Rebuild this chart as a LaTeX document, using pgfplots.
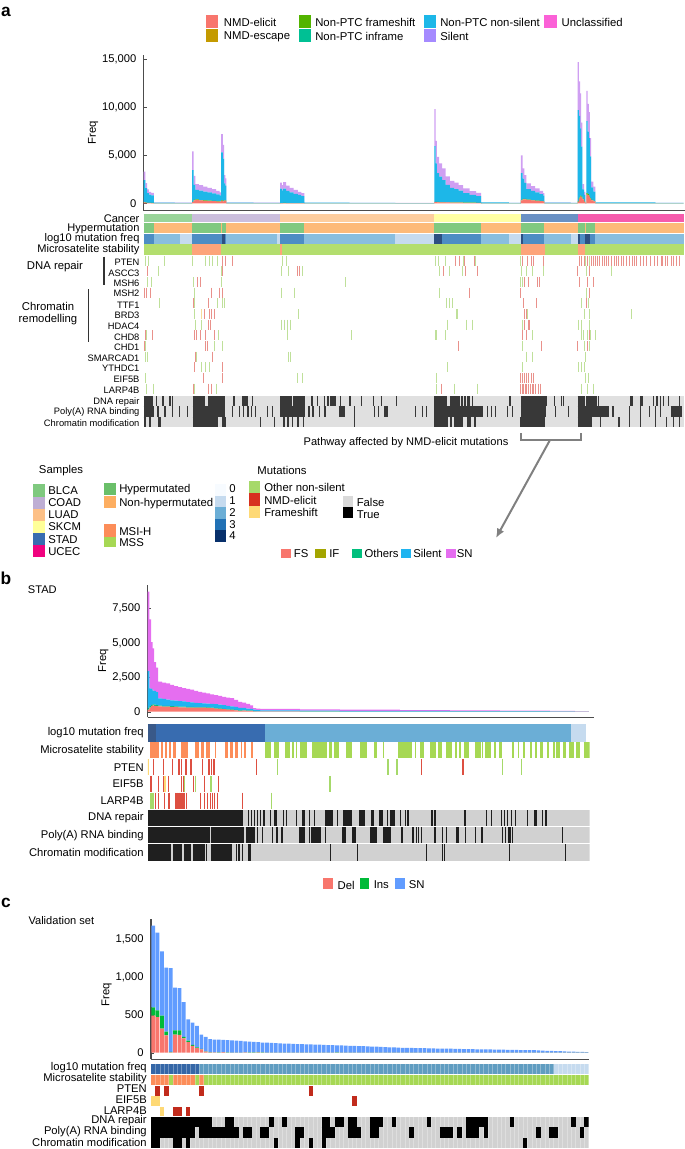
\documentclass[border=0pt]{standalone}
\usepackage{fontspec}
\setmainfont{Liberation Sans}
\usepackage{pgfplots}
\usepackage{pgfplotstable}
\pgfplotsset{compat=1.18}
\usetikzlibrary{arrows.meta}

% colours
\definecolor{fsc}{HTML}{F8766D}
\definecolor{escc}{HTML}{C49A00}
\definecolor{frc}{HTML}{53B400}
\definecolor{infc}{HTML}{00C094}
\definecolor{nsc}{HTML}{1DB7E8}
\definecolor{silc}{HTML}{A58AFF}
\definecolor{uncc}{HTML}{FB61D7}
\definecolor{silbar}{HTML}{CF9FF2}
\definecolor{ifc}{HTML}{A3A500}
\definecolor{othc}{HTML}{00BF7D}
\definecolor{silb}{HTML}{1FB4F0}
\definecolor{snc}{HTML}{E56EF0}
\definecolor{insc}{HTML}{00BA38}
\definecolor{snb}{HTML}{619CFF}
\definecolor{blca}{HTML}{7FC97F}
\definecolor{coad}{HTML}{BEAED4}
\definecolor{luad}{HTML}{FDC086}
\definecolor{skcm}{HTML}{FFFF99}
\definecolor{stad}{HTML}{386CB0}
\definecolor{ucec}{HTML}{F0027F}
\definecolor{hypg}{HTML}{6ABF69}
\definecolor{hypo}{HTML}{FDAE61}
\definecolor{msih}{HTML}{FC8D59}
\definecolor{mss}{HTML}{A6D854}
\definecolor{lga}{HTML}{F7FBFF}
\definecolor{lgb}{HTML}{C6DBEF}
\definecolor{lgc}{HTML}{6BAED6}
\definecolor{lgd}{HTML}{2171B5}
\definecolor{lge}{HTML}{08306B}
\definecolor{onsc}{HTML}{A6D96A}
\definecolor{nmdc}{HTML}{D7301F}
\definecolor{fshc}{HTML}{FED976}
\definecolor{agrn}{HTML}{BFE09A}
\definecolor{ared}{HTML}{E9918B}
\definecolor{ayel}{HTML}{F6DC9A}

\newcommand{\fA}{\fontsize{8.3}{9}\selectfont}
\newcommand{\fB}{\fontsize{7}{8}\selectfont}
\newcommand{\fC}{\fontsize{8.5}{10}\selectfont}
\newcommand{\fD}{\fontsize{8.4}{10}\selectfont}

% row of intervals: colour, y centre, height (px), list a/b
\newcommand{\cells}[4]{%
  \gdef\pts{}%
  \foreach \a/\b in {#4} {\xdef\pts{\pts (\a,#2) (\b,#2) (\b,nan)}}%
  \edef\tmp{\noexpand\addplot[draw=#1,line width=#3*.75pt,forget plot] coordinates {\pts};}\tmp}
% row of single ticks: colour, y centre, height (px), tick width (px), list x
\newcommand{\ticks}[5]{%
  \pgfmathsetmacro{\ya}{#2-#3/2}\pgfmathsetmacro{\yb}{#2+#3/2}%
  \gdef\pts{}%
  \foreach \a in {#5} {\xdef\pts{\pts (\a,\ya) (\a,\yb) (\a,nan)}}%
  \edef\tmp{\noexpand\addplot[draw=#1,line width=#4*.75pt,forget plot] coordinates {\pts};}\tmp}

\pgfplotsset{
  freqaxis/.style={
    scale only axis, anchor=north west,
    axis lines*=left, axis line style={draw=black!70,line width=.8pt,-},
    xtick=\empty, tick style={draw=black!70}, major tick length=2.5pt,
    yticklabel style={font=\fD,xshift=-2pt,/pgf/number format/.cd,1000 sep={,},assume math mode=true},
    scaled y ticks=false, ylabel=Freq, ylabel style={font=\fC,yshift=-4pt},
  },
  heat/.style={
    scale only axis, anchor=north west, y dir=reverse,
    axis y line=left, axis x line=none, y axis line style={draw=none},
    tick style={draw=none}, major tick length=0pt, xtick=\empty,
    unbounded coords=jump,
    yticklabel style={inner sep=3pt},
  },
}

% panel a: x is sample position along the axis, values per stack
\pgfplotstableread{
x e f n s
329 100 20 2300 880
333 60 15 1500 525
337 40 10 1000 400
341 35 10 860 295
346 30 10 780 280
352 5 2 75 18
400 3 1 50 16
439 3 1 50 16
440 120 30 3300 1950
443 300 60 1550 940
447 350 50 1000 600
455 300 40 980 580
465 260 40 920 530
475 240 40 850 470
485 220 30 790 430
495 190 30 700 380
503 170 30 620 330
506 250 60 5000 1890
510 200 50 4400 1450
513 280 40 1750 880
516 250 40 1550 760
518 5 2 70 23
580 3 1 50 16
641 20 10 1500 620
645 20 10 1320 550
648 25 10 1500 665
655 20 10 1280 540
663 20 8 1120 452
672 15 8 960 417
682 15 6 850 329
690 12 6 740 292
697 4 1 60 15
800 3 1 40 16
905 2 1 30 12
994 120 30 5800 3850
997 120 30 4000 2350
1000 110 30 3000 1710
1005 100 20 2650 1380
1012 100 20 2300 1230
1020 90 20 1800 890
1030 80 20 1500 750
1040 70 20 1400 660
1050 70 20 1230 580
1060 60 15 1000 485
1075 50 15 820 395
1090 45 15 700 340
1101 5 2 80 23
1165 3 1 40 16
1192 300 50 2800 1850
1196 400 60 2100 1090
1200 420 50 1650 830
1205 350 40 1100 590
1215 300 30 980 490
1225 260 30 840 430
1235 220 30 710 340
1243 180 20 600 250
1246 5 2 70 23
1306 3 1 40 16
1322 150 50 9500 5000
1325 500 100 8500 3600
1328 700 100 7000 3650
1330 600 100 5200 2500
1333 400 60 1000 540
1337 150 30 700 320
1340 5 2 70 23
1342 900 150 7500 3150
1345 850 120 6500 2880
1348 700 100 6000 2700
1350 500 80 4300 1920
1353 300 50 1300 600
1358 200 30 1000 520
1363 5 2 80 23
1500 3 1 40 16
1565 2 1 30 12
}\dataA

\pgfplotstableread{
x fs oth sil sn
147.7 150 100 2700 5770
149.3 300 100 1300 5000
151 420 80 1150 3400
152.7 450 80 1000 3070
154 430 80 1000 2090
156 400 70 950 1780
158 380 60 530 1210
162 370 60 500 1190
166 360 60 450 1180
170 350 50 430 1110
174 340 50 420 1040
178 320 50 400 1010
182 310 50 380 980
186 300 50 350 960
190 300 50 330 920
194 290 40 310 880
198 290 40 290 820
202 290 40 270 780
206 280 40 260 750
210 260 40 270 680
214 230 40 270 660
218 200 40 270 630
222 180 30 260 610
226 150 30 250 600
230 130 30 230 590
234 100 30 220 500
238 60 30 190 440
242 80 20 170 380
246 60 20 150 340
250 50 20 130 260
253 30 10 100 120
256 20 10 90 110
260 15 5 70 110
300 10 5 55 100
340 8 4 48 80
400 6 4 40 70
450 5 3 32 55
500 4 2 25 44
550 3 1 18 28
575 2 1 8 14
589 1 1 5 8
}\dataB

\pgfplotstableread{
i del ins sn
1 490 110 1080
2 470 90 1030
3 320 170 850
4 230 50 845
5 5 5 1110
6 240 55 565
7 235 60 560
8 190 20 460
9 140 20 280
10 90 15 295
11 60 10 285
12 45 5 190
13 15 3 192
14 5 2 173
15 4 1 170
16 3 1 168
17 8 1 161
18 3 1 164
19 2 1 162
20 2 1 157
21 2 1 155
22 5 1 146
23 3 1 144
24 3 1 141
25 6 1 133
26 3 1 131
27 2 1 130
28 2 1 127
29 2 1 125
30 2 1 122
31 2 1 119
32 2 1 117
33 2 1 115
34 2 1 112
35 2 1 110
36 2 1 109
37 2 1 107
38 2 1 105
39 2 1 103
40 2 1 101
41 2 1 99
42 2 1 97
43 3 1 94
44 2 1 93
45 2 1 91
46 2 1 89
47 2 1 87
48 2 1 85
49 2 1 83
50 2 1 81
51 2 1 79
52 2 1 77
53 2 1 75
54 2 1 72
55 2 1 69
56 2 1 67
57 2 1 65
58 2 1 63
59 2 1 61
60 2 1 60
61 2 1 59
62 2 1 58
63 2 1 57
64 2 1 56
65 2 1 55
66 2 1 53
67 2 1 52
68 2 1 51
69 2 1 50
70 2 1 49
71 2 1 47
72 2 1 46
73 2 1 45
74 2 1 44
75 2 1 43
76 2 1 42
77 2 1 41
78 2 1 40
79 2 1 39
80 2 1 38
81 2 1 37
82 2 1 36
83 2 1 35
84 2 1 34
85 2 1 33
86 2 1 32
87 2 1 31
88 2 1 30
89 2 1 29
90 2 1 25
91 2 1 23
92 2 1 21
93 1 1 20
94 1 1 18
95 1 1 16
96 1 1 14
97 1 1 12
98 1 1 10
99 1 1 8
100 1 1 6
}\dataC

\begin{document}
\begin{tikzpicture}[x=.75pt,y=-.75pt]
\useasboundingbox (0,0) rectangle (685,1149);

% ---------- panel a bars
\begin{axis}[freqaxis, at={(107.78pt,-41.25pt)}, width=406pt, height=116.8pt,
    xmin=329, xmax=1568, ymin=-771, ymax=15448,
    ytick={0,5000,10000,15000}, stack plots=y, const plot]
\addplot[fill=fsc,draw=none] table[x=x,y=e] {\dataA} \closedcycle;
\addplot[fill=frc,draw=none] table[x=x,y=f] {\dataA} \closedcycle;
\addplot[fill=nsc,draw=none] table[x=x,y=n] {\dataA} \closedcycle;
\addplot[fill=silbar,draw=none] table[x=x,y=s] {\dataA} \closedcycle;
\end{axis}

% ---------- panel a heat rows
\begin{axis}[heat, at={(107.78pt,-159.75pt)}, width=406pt, height=161.25pt,
    xmin=329, xmax=1568, ymin=213, ymax=428,
    ytick={218.3,228.2,238.8,249.5,262,273,283.7,293.5,305,315.5,326,337,347.7,358,368.7,379.7,390,401.7,412.3,423},
    yticklabels={{\fA Cancer},{\fA Hypermutation},{\fA log10 mutation freq},{\fA Microsatelite stability},
      {\fB PTEN},{\fB ASCC3},{\fB MSH6},{\fB MSH2},{\fB TTF1},{\fB BRD3},{\fB HDAC4},{\fB CHD8},{\fB CHD1},{\fB SMARCAD1},{\fB YTHDC1},{\fB EIF5B},{\fB LARP4B},
      {\fB DNA repair},{\fB Poly(A) RNA binding},{\fB Chromatin modification}}]
\cells{blca!80!white}{218.3}{8}{329/439}
\cells{coad!80!white}{218.3}{8}{439/641}
\cells{luad!80!white}{218.3}{8}{641/994}
\cells{skcm!90!white}{218.3}{8}{994/1192}
\cells{stad!75!white}{218.3}{8}{1192/1322}
\cells{ucec!65!white}{218.3}{8}{1322/1565}
\cells{hypg!85!white}{228.2}{10.3}{329/352,439/505,508/518,641/697,994/1101,1192/1245,1322/1338,1342/1363}
\cells{hypo!85!white}{228.2}{10.3}{352/439,505/508,518/641,697/994,1101/1192,1245/1322,1338/1342,1363/1565}
\cells{lgb}{238.8}{9.7}{412/439,634/641,905/994,1165/1192,1306/1322}
\cells{lgc!80!white}{238.8}{9.7}{352/412,518/634,697/905,1101/1165,1245/1306,1363/1565}
\cells{lgd!80!white}{238.8}{9.7}{329/352,439/508,515/518,641/697,1012/1101,1198/1245,1328/1340,1350/1363}
\cells{lge!85!white}{238.8}{9.7}{508/515,994/1012,1192/1198,1322/1328,1340/1350}
\cells{mss!85!white}{249.5}{10.4}{329/439,507/641,646/994,994/1192,1247/1322,1340/1565}
\cells{msih!80!white}{249.5}{10.4}{439/507,641/646,1192/1247,1322/1340}
% PTEN
\ticks{agrn}{260.7}{10}{1}{334,340,377,441,470,480,487,497,646,655,997,1004,1020,1061,1088,1192,1340,1350}
\ticks{ared}{260.7}{10}{1}{510,517,533,1043,1052,1064,1086,1196,1208,1216,1222,1243,1327,1332,1337,1345,1353,1358,1363,1368,1373,1378,1384,1388,1393,1400,1407,1412,1416,1423,1428,1433,1441,1448,1452,1458,1466,1473,1479,1488,1499,1505,1513,1517,1524,1528,1537,1542,1548,1555}
% ASCC3
\ticks{agrn}{271.4}{10}{1}{362,508,645,661,693,1006,1029,1058,1194,1205,1218,1243,1342,1400}
\ticks{ared}{271.4}{10}{1}{337,510,682,686,1015,1065,1093,1322,1349}
% MSH6
\ticks{agrn}{282}{10}{1}{338,347,443,508,791,1192,1196,1235}
\ticks{ared}{282}{10}{1}{452,460,1200,1210,1230,1236,1327,1345,1358}
% MSH2
\ticks{agrn}{292.7}{10}{1}{446,644,674,1005,1343}
\ticks{ared}{292.7}{10}{1}{330,336,345,484,503,509,1075,1192,1349}
% TTF1
\ticks{agrn}{303.3}{10}{1}{365,445,498,510,515,1022,1030,1036,1332,1348}
\ticks{ared}{303.3}{10}{1}{443,478,1198,1227,1342}
% BRD3
\ticks{agrn}{314}{10}{1}{445,683,1045,1048,1207,1338,1350,1445}
\ticks{ayel}{314}{10}{1}{462}
\ticks{ared}{314}{10}{1}{467,480,485,492,1200,1205}
% HDAC4
\ticks{agrn}{324.6}{10}{1}{448,462,645,651,658,665,1025,1068,1082,1195,1325,1330,1350}
\ticks{ared}{324.6}{10}{1}{478,482,1200,1210,1212}
% CHD8
\ticks{agrn}{335.3}{10}{1}{335,450,500,658,805,996,1000,1020,1218,1330,1335,1345,1352,1362}
\ticks{ared}{335.3}{10}{1}{333,348,445,450,460,470,490,1197,1205,1350}
% CHD1
\ticks{agrn}{345.9}{10}{1}{333,490,510,1195,1337,1350}
\ticks{ared}{345.9}{10}{1}{330,470,475,1049,1240,1322,1345}
% SMARCAD1
\ticks{agrn}{356.6}{10}{1}{333,337,449,660,666,1205,1218,1340}
\ticks{ared}{356.6}{10}{1}{447,487}
% YTHDC1
\ticks{agrn}{367.2}{10}{1}{462,470,480,1025,1195,1325,1332,1338}
\ticks{ared}{367.2}{10}{1}{445,510}
% EIF5B
\ticks{agrn}{377.9}{10}{1}{333,682,692,1000,1340,1348}
\ticks{ared}{377.9}{10}{1}{465,510,1192,1196,1200,1205,1210,1216,1222}
% LARP4B
\ticks{agrn}{388.5}{10}{1}{335,351,445,495,1000,1040,1092,1330,1345,1358}
\ticks{ared}{388.5}{10}{1}{443,478,484,1010,1192,1195,1198,1202,1206,1210,1214,1218,1222,1226,1232,1238}
% pathway rows
\cells{black!12}{400.8}{10.3}{329/1565}
\cells{black!12}{411.5}{10.3}{329/1565}
\cells{black!12}{422.2}{10.3}{329/1565}
\cells{black!78}{400.8}{10.3}{329/350,358/360,372/375,387/392,394/397,441/470,476/515,534/537,555/568,576/578,641/668,671/698,713/716,725/728,741/745,748/752,755/769,778/780,800/803,826/829,853/856,871/874,906/909,994/1024,1030/1052,1056/1060,1062/1066,1070/1075,1080/1082,1165/1170,1192/1252,1268/1271,1283/1285,1288/1291,1322/1338,1342/1366,1369/1372,1443/1450,1465/1471,1495/1497,1502/1505,1510/1513,1517/1520,1529/1531,1555/1557}
\cells{black!78}{411.5}{10.3}{329/352,360/364,375/380,393/396,410/412,428/431,441/516,530/533,546/548,556/558,565/570,574/576,584/587,612/614,622/625,641/698,706/710,715/719,730/733,741/746,775/790,810/812,856/858,865/868,880/888,950/953,965/968,975/977,994/1105,1115/1118,1124/1126,1132/1135,1160/1163,1172/1175,1192/1250,1270/1272,1300/1302,1322/1395,1400/1405,1440/1442,1465/1467,1485/1488,1499/1502,1510/1512,1535/1560}
\cells{black!78}{422.2}{10.3}{329/335,340/345,362/369,441/500,508/518,595/597,627/629,648/652,658/661,668/670,680/684,694/697,810/812,994/1025,1030/1035,1040/1060,1070/1078,1085/1090,1190/1247,1322/1355,1373/1375,1415/1418,1440/1442,1465/1467,1500/1502,1525/1527,1540/1542,1555/1557}
\end{axis}

% ---------- panel b bars
\begin{axis}[freqaxis, at={(110.78pt,-438.75pt)}, width=334.7pt, height=99.2pt,
    xmin=147.7, xmax=594, ymin=-407, ymax=9207,
    ytick={0,2500,5000,7500}, stack plots=y, const plot,
    ylabel style={xshift=-7pt}]
\addplot[fill=fsc,draw=none] table[x=x,y=fs] {\dataB} \closedcycle;
\addplot[fill=othc,draw=none] table[x=x,y=oth] {\dataB} \closedcycle;
\addplot[fill=silb,draw=none] table[x=x,y=sil] {\dataB} \closedcycle;
\addplot[fill=snc,draw=none] table[x=x,y=sn] {\dataB} \closedcycle;
\end{axis}

% ---------- panel b heat rows
\begin{axis}[heat, at={(110.93pt,-543pt)}, width=331.2pt, height=102.75pt,
    xmin=380, xmax=1515, ymin=724, ymax=861,
    ytick={733,750.3,767.2,784.1,801,818,835.2,852.2},
    yticklabels={log10 mutation freq,Microsatelite stability,PTEN,EIF5B,LARP4B,DNA repair,Poly(A) RNA binding,Chromatin modification},
    yticklabel style={font=\fD}]
\cells{lge!80!white}{733}{17.2}{380/402}
\cells{stad}{733}{17.2}{402/681}
\cells{lgc}{733}{17.2}{681/1468}
\cells{lgb}{733}{17.2}{1468/1506}
\cells{msih}{750.3}{16}{386/409,414/420,424/430,435/440,444/451,465/483,501/512,517/524,530/540,553/556,578/585,590/598,603/612,618/622,628/632,645/650}
\cells{mss}{750.3}{16}{681/696,704/718,732/745,750/755,760/764,770/788,803/840,845/852,858/872,888/905,925/942,962/970,983/988,1023/1060,1066/1070,1080/1090,1105/1120,1125/1135,1145/1162,1170/1175,1180/1185,1192/1205,1220/1235,1238/1242,1247/1262,1270/1275,1283/1290,1315/1322,1330/1335,1343/1350,1362/1366,1375/1380,1388/1395,1405/1410,1420/1426,1430/1440,1448/1455,1462/1474,1480/1490,1500/1515}
\ticks{fshc}{767.2}{15.8}{1.2}{380}
\ticks{nmdc!85!white}{767.2}{15.8}{1.2}{394,420,443,460,466,478,491,521,537,543,550,659,1083,1190}
\ticks{onsc}{767.2}{15.8}{1.2}{714,997,1020,1292,1340}
\ticks{nmdc!85!white}{784.1}{16.3}{1.2}{386,390,407,420,433,466,471,497,526,561}
\ticks{fshc}{784.1}{16.3}{1.2}{424}
\ticks{onsc}{784.1}{16.3}{1.2}{475,502,542,848}
\ticks{nmdc!85!white}{801}{16.6}{1.2}{400,407,423,434,450,455,460,465,470,475,480,515,525,533,540,545,551,558,623}
\ticks{onsc}{801}{16.6}{1.2}{388,393,697}
\cells{black!18}{818}{16.6}{380/1515}
\cells{black!18}{835.2}{16.3}{380/1515}
\cells{black!18}{852.2}{17}{380/1515}
\cells{black!88}{818}{16.6}{380/600,602/625,638/641,645/648,652/655,660/663,668/670,677/680,693/697,705/713,728/730,735/738,760/763,775/785,793/795,807/810,835/855,866/869,882/905,922/937,953/960,973/985,995/997,1003/1015,1028/1030,1040/1042,1047/1050,1108/1112,1115/1120,1192/1198,1248/1250,1262/1265,1287/1290,1296/1298,1303/1306,1313/1316,1323/1325,1355/1358,1373/1380,1393/1396,1400/1405}
\cells{black!88}{835.2}{16.3}{380/540,543/628,633/655,660/662,673/676,698/702,708/715,722/728,768/783,793/796,800/826,835/838,880/888,905/916,950/968,985/1005,1030/1035,1060/1063,1068/1070,1075/1078,1082/1085,1115/1120,1135/1138,1145/1148,1172/1180,1195/1198,1220/1222,1237/1240,1290/1293,1297/1300,1306/1312,1315/1318,1445/1447}
\cells{black!88}{852.2}{17}{380/440,444/467,473/491,496/526,530/532,543/597,606/608,612/617,622/624,636/645,848/850,918/920,1095/1097,1135/1138,1141/1143,1308/1310,1453/1455}
\end{axis}

% ---------- panel c bars
\begin{axis}[freqaxis, at={(113.25pt,-689.48pt)}, width=328.3pt, height=105pt,
    xmin=.5, xmax=100.5, ymin=-87, ymax=1765,
    ytick={0,500,1000,1500}, ybar stacked, bar width=2.75pt,
    ylabel style={xshift=-4pt}]
\addplot[fill=fsc,draw=none] table[x=i,y=del] {\dataC};
\addplot[fill=insc,draw=none] table[x=i,y=ins] {\dataC};
\addplot[fill=snb,draw=none] table[x=i,y=sn] {\dataC};
\end{axis}

% ---------- panel c heat rows
\begin{axis}[heat, at={(113.25pt,-798pt)}, width=328.3pt, height=63pt,
    xmin=.5, xmax=100.5, ymin=1064, ymax=1148,
    ytick={1067.5,1078.5,1089,1100,1110.5,1121,1132,1142.7},
    yticklabels={log10 mutation freq,Microsatelite stability,PTEN,EIF5B,LARP4B,DNA repair,Poly(A) RNA binding,Chromatin modification},
    yticklabel style={font=\fD}]
\cells{stad!95!black}{1069.2}{10.3}{.5/11.5}
\cells{lgc!90!black}{1069.2}{10.3}{11.5/92.5}
\cells{lgb}{1069.2}{10.3}{92.5/100.5}
\cells{msih}{1080.2}{10.3}{.5/4.5,5.5/10.5,11.5/12.5}
\cells{mss}{1080.2}{10.3}{4.5/5.5,10.5/11.5,12.5/100.5}
\ticks{white,opacity=.3}{1074.7}{21.3}{.5}{1.5,2.5,...,99.5}
\cells{nmdc!90!black}{1090.9}{10}{1.5/2.5,3.5/4.5,11.5/12.5,36.5/37.5}
\cells{fshc}{1101.3}{9.8}{.5/2.5}
\cells{nmdc!90!black}{1101.3}{9.8}{46.5/47.5}
\cells{fshc}{1111.6}{9.6}{2.5/3.5}
\cells{nmdc!90!black}{1111.6}{9.6}{5.5/7.5,8.5/9.5}
\cells{black!18}{1122}{10.3}{.5/100.5}
\cells{black!18}{1132.4}{10.3}{.5/100.5}
\cells{black!18}{1142.8}{10.3}{.5/100.5}
\ticks{white,opacity=.3}{1132.4}{31}{.5}{1.5,2.5,...,99.5}
\cells{black}{1122}{10.3}{.5/14.5,17.5/19.5,27.5/28.5,30.5/31.5,39.5/41.5,42.5/44.5,45.5/47.5,50.5/53.5,55.5/56.5,63.5/64.5,72.5/77.5,82.5/83.5,96.5/97.5,99.5/100.5}
\cells{black}{1132.4}{10.3}{.5/10.5,11.5/20.5,21.5/23.5,25.5/27.5,33.5/35.5,39.5/42.5,45.5/48.5,50.5/52.5,59.5/60.5,66.5/69.5,70.5/71.5,72.5/75.5,76.5/77.5,88.5/89.5,91.5/93.5,98.5/99.5}
\cells{black}{1142.8}{10.3}{.5/2.5,5.5/7.5,8.5/9.5,28.5/29.5,33.5/34.5,36.5/37.5,39.5/40.5,85.5/86.5}
\end{axis}

% ---------- annotations
\node[font=\bfseries\fontsize{13}{14}\selectfont] at (6,12) {a};
\node[font=\bfseries\fontsize{13}{14}\selectfont] at (6,578) {b};
\node[font=\bfseries\fontsize{13}{14}\selectfont] at (6,903) {c};
\node[font=\fA,anchor=west,inner sep=0pt] at (27.7,590) {STAD};
\node[font=\fA,anchor=west,inner sep=0pt] at (28.3,921) {Validation set};

\node[font=\fC] at (55,267) {DNA repair};
\node[font=\fC] at (48,306) {Chromatin};
\node[font=\fC] at (48,320) {remodelling};
\draw[black!80,line width=.9pt] (104,256.7) -- (104,285);
\draw[black!80,line width=.9pt] (88.7,289) -- (88.7,341.7);

\node[font=\fA] at (406,443) {Pathway affected by NMD-elicit mutations};
\draw[black!50,line width=1.8pt] (520.8,433) -- (520.8,440) -- (581,440) -- (581,433);
\draw[black!50,line width=1.5pt,-{Latex[length=7pt,width=6pt]}] (550,440) -- (496,538);

% legends
\newcommand{\sw}[5]{\fill[#1] (#2,#3) rectangle (#4,#5);}
\newcommand{\lb}[3]{\node[font=\fC,anchor=west,inner sep=0pt] at (#1,#2) {#3};}
\sw{fsc}{206}{15}{218}{28}\lb{223.7}{22.7}{NMD-elicit}
\sw{escc}{206}{29}{218}{42}\lb{223.7}{36.7}{NMD-escape}
\sw{frc}{299}{15}{311}{28}\lb{315}{22.7}{Non-PTC frameshift}
\sw{infc}{299}{29}{311}{42}\lb{315}{36.7}{Non-PTC inframe}
\sw{nsc}{424}{15}{436}{28}\lb{440}{22.7}{Non-PTC non-silent}
\sw{silc}{424}{29}{436}{42}\lb{440}{36.7}{Silent}
\sw{uncc}{544}{15}{556.6}{28}\lb{561.4}{22}{Unclassified}

\node[font=\fC] at (61,470.7) {Samples};
\sw{blca}{33}{484.3}{45}{496.5}\lb{48}{490.5}{BLCA}
\sw{coad}{33}{496.5}{45}{508.7}\lb{48}{502.7}{COAD}
\sw{luad}{33}{508.7}{45}{520.9}\lb{48}{515}{LUAD}
\sw{skcm}{33}{520.9}{45}{533}\lb{48}{527}{SKCM}
\sw{stad}{33}{533}{45}{545.3}\lb{48}{539.5}{STAD}
\sw{ucec}{33}{545.3}{45}{557}\lb{48}{552}{UCEC}
\sw{hypg}{104}{482.7}{116}{495}\lb{119}{490}{Hypermutated}
\sw{hypo}{104}{495.7}{116}{508.3}\lb{119}{504}{Non-hypermutated}
\sw{msih}{104}{524.3}{116}{536.7}\lb{119}{531.7}{MSI-H}
\sw{mss}{104}{537.3}{116}{547.3}\lb{119}{543}{MSS}
\sw{lga}{215}{484}{226}{495.5}\lb{229}{489}{0}
\sw{lgb}{215}{495.5}{226}{507}\lb{229}{500.7}{1}
\sw{lgc}{215}{507}{226}{518.5}\lb{229}{512.7}{2}
\sw{lgd}{215}{518.5}{226}{530}\lb{229}{524.3}{3}
\sw{lge}{215}{530}{226}{541.7}\lb{229}{535.3}{4}
\node[font=\fC] at (282,470.7) {Mutations};
\sw{onsc}{248.6}{481}{260.4}{493.3}\lb{264}{487.3}{Other non-silent}
\sw{nmdc}{248.6}{493.3}{260.4}{505.7}\lb{264}{500.7}{NMD-elicit}
\sw{fshc}{248.6}{505.7}{260.4}{517.7}\lb{264}{512.7}{Frameshift}
\sw{black!15}{342.5}{496}{353}{507.3}\lb{356.5}{502.7}{False}
\sw{black}{342.5}{507.3}{353}{518.3}\lb{356.5}{514.7}{True}

\sw{fsc}{280.5}{548.7}{290.5}{557.7}\lb{293.6}{553.3}{FS}
\sw{ifc}{315}{548.7}{326.3}{557.7}\lb{329}{553.3}{IF}
\sw{othc}{352}{548.7}{362}{557.7}\lb{364.3}{553.3}{Others}
\sw{silb}{401}{548.7}{411}{557.7}\lb{413}{553.3}{Silent}
\sw{snc}{446}{548.7}{456}{557.7}\lb{456.5}{553.3}{SN}

\sw{fsc}{323}{878.3}{332.7}{889}\lb{337.4}{885}{Del}
\sw{insc}{359.5}{878.3}{369}{889}\lb{373.5}{885}{Ins}
\sw{snb}{395}{878.3}{404.7}{889}\lb{408.6}{885}{SN}
\end{tikzpicture}
\end{document}
